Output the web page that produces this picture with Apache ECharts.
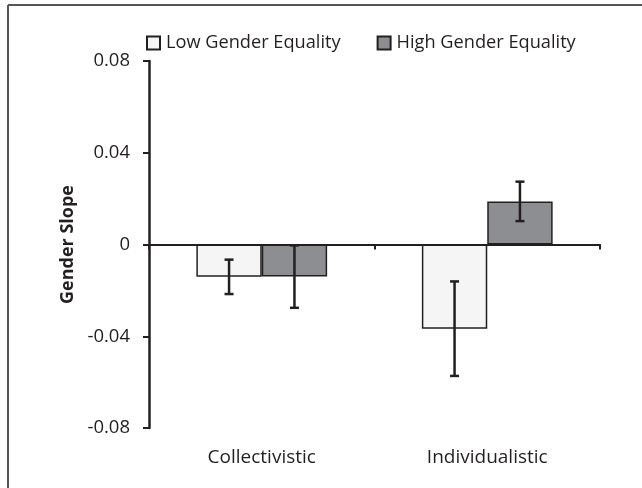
<!DOCTYPE html>
<html><head><meta charset="utf-8">
<script src="https://cdn.jsdelivr.net/npm/echarts@6/dist/echarts.min.js"></script>
<style>html,body{margin:0;padding:0;background:#fff}#c{width:642px;height:488px}</style>
</head><body><div id="c"></div>
<script>
const categories = ['Collectivistic', 'Individualistic'];
const seriesNames = ['Low Gender Equality', 'High Gender Equality'];
const lowValues = [-0.0141, -0.0367];
const lowErrors = [0.0075, 0.0206];
const highValues = [-0.0140, 0.0188];
const highErrors = [0.0136, 0.0086];
const yTicks = [-0.08, -0.04, 0, 0.04, 0.08];

const FONT = '"Open Sans", "Liberation Sans", sans-serif';
const BAR_FRAC = 0.29;
const chart = echarts.init(document.getElementById('c'));

function errSeries(values, errors, side) {
  return {
    type: 'custom', xAxisIndex: 0, z: 10, silent: true,
    data: values.map((v, i) => [i, v - errors[i], v + errors[i]]),
    renderItem: function (params, api) {
      const i = api.value(0);
      const bw = api.size([1, 0])[0] * BAR_FRAC;
      const lo = api.coord([i, api.value(1)]);
      const hi = api.coord([i, api.value(2)]);
      const x = lo[0] + side * bw / 2;
      const cap = 4.5;
      const st = { stroke: '#231f20', lineWidth: 2.5 };
      return { type: 'group', children: [
        { type: 'line', shape: { x1: x, y1: lo[1], x2: x, y2: hi[1] }, style: st },
        { type: 'line', shape: { x1: x - cap, y1: lo[1], x2: x + cap, y2: lo[1] }, style: st },
        { type: 'line', shape: { x1: x - cap, y1: hi[1], x2: x + cap, y2: hi[1] }, style: st }
      ]};
    }
  };
}

chart.setOption({
  animation: false,
  backgroundColor: '#fff',
  textStyle: { fontFamily: FONT },
  graphic: [
    { type: 'line', shape: { x1: 8, y1: 5, x2: 642, y2: 5 }, style: { stroke: '#555', lineWidth: 2 } },
    { type: 'line', shape: { x1: 8, y1: 5, x2: 8, y2: 488 }, style: { stroke: '#555', lineWidth: 2 } }
  ],
  legend: {
    left: 146, top: 34, padding: 0, itemWidth: 13, itemHeight: 13, itemGap: 36,
    icon: 'rect',
    textStyle: { fontFamily: FONT, fontSize: 18.2, color: '#231f20', padding: [0, 0, 0, 1] },
    data: seriesNames
  },
  grid: { left: 149, right: 42, top: 61, bottom: 60, containLabel: false },
  xAxis: [
    { type: 'category', data: categories,
      axisLine: { onZero: true, lineStyle: { color: '#231f20', width: 2 } },
      axisTick: { show: true, length: 5, inside: false, lineStyle: { color: '#231f20', width: 2 } },
      axisLabel: { show: false } },
    { type: 'category', data: categories, position: 'bottom',
      axisLine: { show: false }, axisTick: { show: false },
      axisLabel: { show: true, margin: 20, fontFamily: FONT, fontSize: 19, color: '#231f20' } }
  ],
  yAxis: {
    type: 'value', min: -0.08, max: 0.08, interval: 0.04,
    name: 'Gender Slope', nameLocation: 'middle', nameGap: 70,
    nameTextStyle: { fontFamily: FONT, fontSize: 18, fontWeight: 'bold', color: '#231f20' },
    axisLine: { show: true, lineStyle: { color: '#231f20', width: 2.5 } },
    axisTick: { show: true, length: 6, lineStyle: { color: '#231f20', width: 2 } },
    splitLine: { show: false },
    axisLabel: { margin: 19, fontFamily: FONT, fontSize: 18.5, color: '#231f20',
      formatter: v => { const t = yTicks.find(x => Math.abs(x - v) < 1e-9); return t === 0 ? '0' : String(t); } }
  },
  series: [
    { name: seriesNames[0], type: 'bar', data: lowValues, barWidth: (BAR_FRAC * 100) + '%', barGap: '0%',
      itemStyle: { color: '#f5f5f5', borderColor: '#231f20', borderWidth: 1.5 } },
    { name: seriesNames[1], type: 'bar', data: highValues, barWidth: (BAR_FRAC * 100) + '%', barGap: '0%',
      itemStyle: { color: '#8d8e91', borderColor: '#231f20', borderWidth: 1.5 } },
    errSeries(lowValues, lowErrors, -1),
    errSeries(highValues, highErrors, 1)
  ]
});
</script></body></html>
